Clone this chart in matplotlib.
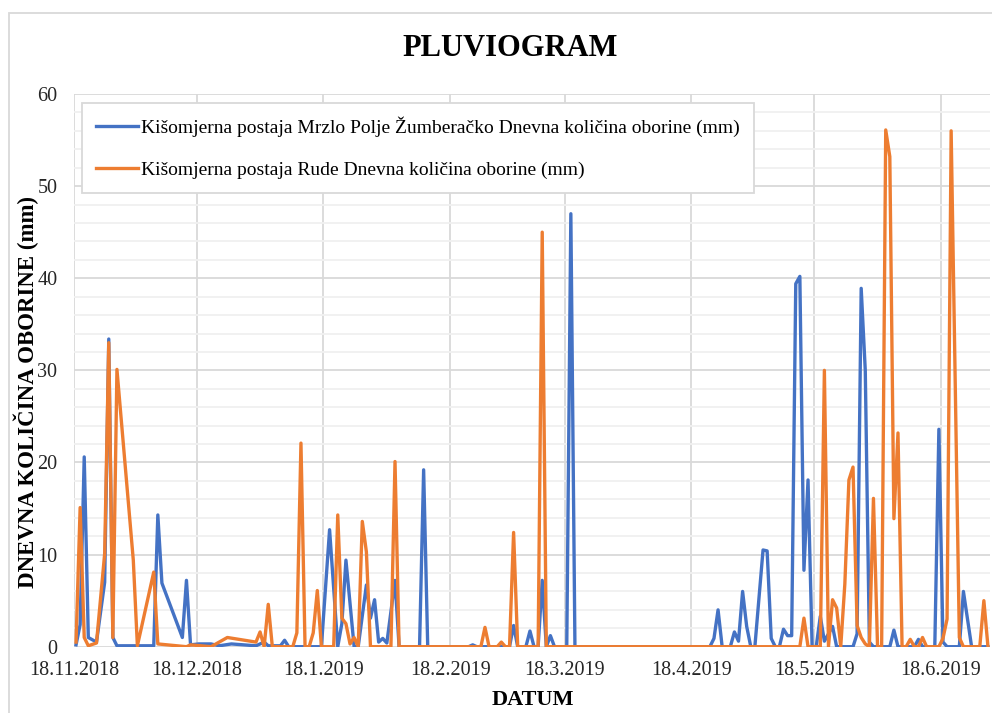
import numpy as np
import pandas as pd
import matplotlib
matplotlib.use("Agg")
import matplotlib.pyplot as plt
from matplotlib.ticker import MultipleLocator
from matplotlib.patches import Rectangle

# day offsets from 18.11.2018 and daily rainfall (mm)
start = "2018-11-18"
blue_days = [0, 1, 2, 3, 5, 7, 8, 9, 10, 19, 20, 21, 26, 27, 28, 30, 33, 35, 38, 44,
             46, 47, 50, 51, 52, 60, 62, 64, 65, 66, 68, 69, 71, 72, 73, 74, 75, 76, 78, 79,
             84, 85, 86, 96, 97, 98, 106, 107, 108, 110, 111, 112, 113, 114, 115, 116, 117,
             120, 121, 122, 155, 156, 157, 158, 160, 161, 162, 163, 164, 165, 166, 168, 169,
             170, 171, 172, 173, 174, 175, 176, 177, 178, 179, 180, 181, 182, 183, 185, 186,
             190, 191, 192, 193, 194, 195, 199, 200, 201, 205, 206, 207, 210, 211, 212, 213,
             216, 217, 219, 223]
blue_vals = [0.2, 2.4, 20.6, 1.0, 0.5, 7.0, 33.4, 1.0, 0.1, 0.1, 14.3, 6.9, 1.0, 7.2, 0.2, 0.3, 0.3, 0.1, 0.3, 0.1,
             0.5, 0.1, 0.1, 0.7, 0, 0, 12.7, 0, 2.5, 9.4, 0, 0, 6.7, 3.1, 5.1, 0.5, 0.9, 0.4, 7.2, 0,
             0, 19.2, 0, 0, 0.2, 0, 0, 2.3, 0, 0, 1.7, 0, 0, 7.2, 0, 1.2, 0,
             0, 47.0, 0, 0, 0.9, 4.0, 0, 0, 1.6, 0.6, 6.0, 2.2, 0, 0, 10.5, 10.4,
             0.9, 0, 0, 1.9, 1.2, 1.2, 39.4, 40.2, 8.3, 18.1, 0, 0, 3.3, 0.6, 2.2, 0,
             0, 1.4, 38.9, 30.0, 0.5, 0, 0, 1.8, 0, 0, 0.8, 0, 0, 23.6, 0.5, 0,
             0, 6.0, 0, 0]

orange_days = [0, 1, 2, 3, 5, 7, 8, 9, 10, 14, 15, 19, 20, 27, 28, 33, 37, 44, 45, 46,
               47, 48, 53, 54, 55, 56, 57, 58, 59, 60, 63, 64, 65, 66, 67, 68, 69, 70, 71, 72,
               77, 78, 79, 99, 100, 101, 103, 104, 105, 106, 107, 108, 113, 114, 115, 177, 178,
               179, 182, 183, 184, 185, 186, 187, 188, 189, 190, 191, 192, 193, 194, 195, 196,
               197, 198, 199, 200, 201, 202, 203, 204, 205, 206, 207, 208, 211, 212, 213, 214,
               216, 217, 221, 222, 223]
orange_vals = [0.5, 15.1, 1.0, 0.1, 0.4, 10.1, 33.0, 1.0, 30.1, 9.4, 0.1, 8.1, 0.3, 0, 0.2, 0, 1.0, 0.5, 1.6, 0,
               4.6, 0, 0, 1.5, 22.1, 0, 0, 1.5, 6.1, 0, 0, 14.3, 3.1, 2.5, 0.3, 1.0, 0, 13.6, 10.3, 0,
               0, 20.1, 0, 0, 2.1, 0, 0, 0.5, 0, 0, 12.4, 0, 0, 45.0, 0, 0, 3.1,
               0, 0, 30.0, 0, 5.1, 4.2, 0, 6.8, 18.1, 19.5, 2.3, 1.0, 0.3, 0, 16.1, 0,
               0, 56.1, 53.2, 13.9, 23.2, 0, 0, 0.8, 0, 0, 1.0, 0, 0, 0.9, 3.0, 56.0,
               1.0, 0, 0, 5.0, 0]

tick_labels = ["18.11.2018", "18.12.2018", "18.1.2019", "18.2.2019",
               "18.3.2019", "18.4.2019", "18.5.2019", "18.6.2019"]
names = ["Kišomjerna postaja Mrzlo Polje Žumberačko Dnevna količina oborine (mm)",
         "Kišomjerna postaja Rude Dnevna količina oborine (mm)"]

plt.rcParams["font.family"] = ["Liberation Serif", "DejaVu Serif"]

t0 = pd.Timestamp(start)
# excel puts the point in the middle of the day
bx = t0 + pd.to_timedelta(np.array(blue_days) + 0.5, unit="D")
ox = t0 + pd.to_timedelta(np.array(orange_days) + 0.5, unit="D")
ticks = pd.to_datetime(tick_labels, format="%d.%m.%Y")

fig = plt.figure(figsize=(9.92, 7.13), dpi=100)
ax = fig.add_axes([74 / 992, 1 - 646.7 / 713, (990 - 74) / 992, (646.7 - 94) / 713])

ax.plot(bx, blue_vals, color="#4472C4", lw=2.4, label=names[0], zorder=3)
ax.plot(ox, orange_vals, color="#ED7D31", lw=2.4, label=names[1], zorder=4)

ax.set_xlim(t0, t0 + pd.Timedelta(days=224))
ax.set_ylim(0, 60)
ax.yaxis.set_major_locator(MultipleLocator(10))
ax.yaxis.set_minor_locator(MultipleLocator(2))
ax.set_xticks(ticks)
ax.set_xticklabels(tick_labels)
ax.grid(axis="y", which="major", color="#d9d9d9", lw=1.3)
ax.grid(axis="y", which="minor", color="#f0f0f0", lw=1.3)
ax.grid(axis="x", which="major", color="#d9d9d9", lw=1.3)
ax.set_axisbelow(True)
ax.tick_params(axis="both", which="both", length=0, labelsize=14.5, colors="#262626")
ax.tick_params(axis="y", pad=12)
ax.tick_params(axis="x", pad=10)
for s in ax.spines.values():
    s.set_visible(False)

fig.text(510 / 992, 1 - 48 / 713, "PLUVIOGRAM", ha="center", va="center",
         fontsize=22, fontweight="bold")
fig.text(26 / 992, 1 - 392 / 713, "DNEVNA KOLIČINA OBORINE (mm)", rotation=90,
         ha="center", va="center", fontsize=16.5, fontweight="bold")
fig.text(533 / 992, 1 - 700 / 713, "DATUM", ha="center", va="center",
         fontsize=16, fontweight="bold")

leg = ax.legend(loc="upper left", bbox_to_anchor=(82 / 992, 1 - 103 / 713),
                bbox_transform=fig.transFigure, fontsize=14, handlelength=2.2,
                handletextpad=0.15, labelspacing=1.25, borderpad=0.7,
                borderaxespad=0, fancybox=False, framealpha=1)
leg.get_frame().set_edgecolor("#d9d9d9")
leg.get_frame().set_linewidth(1.3)

# chart border
fig.patches.append(Rectangle((9 / 992, -0.1), 1.1, 1 - 13 / 713 + 0.1,
                             transform=fig.transFigure, fill=False,
                             edgecolor="#d9d9d9", lw=1.3))

fig.savefig("out.png", dpi=100)
